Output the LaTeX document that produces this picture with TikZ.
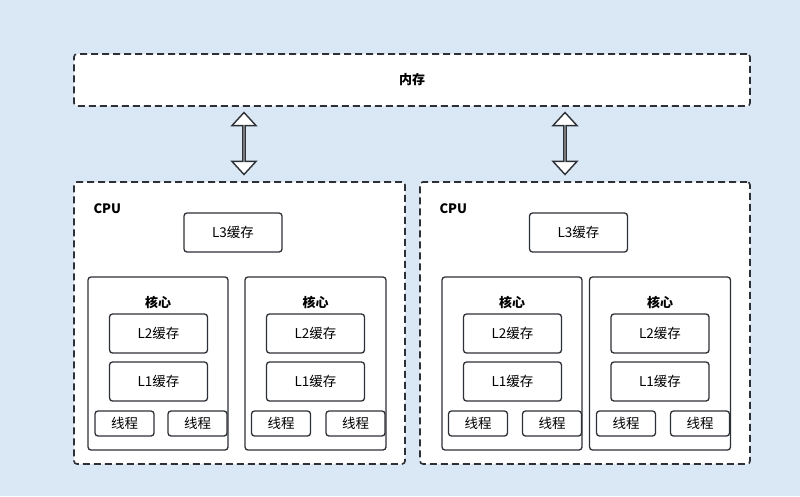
\documentclass[tikz,border=0pt]{standalone}
\usepackage{fontspec}
\setmainfont{Noto Sans CJK SC}
\usetikzlibrary{shapes.arrows}
\definecolor{bgblue}{RGB}{218,231,245}
\definecolor{linegray}{RGB}{45,48,54}

\begin{document}
\begin{tikzpicture}[x=1pt, y=-1pt,
		dashbox/.style={draw=linegray, line width=1.6pt, dash pattern=on 7pt off 4pt, rounded corners=3pt, fill=white},
		solidbox/.style={draw=linegray, line width=1.3pt, rounded corners=3pt, fill=white, inner sep=0pt, font=\fontsize{13.5}{15}\selectfont},
		boldlabel/.style={font=\fontsize{13}{15}\selectfont\bfseries},
		dblarrow/.style={double arrow, draw=linegray, fill=white, line width=1.4pt, minimum height=62pt, minimum width=24pt, double arrow head extend=6.5pt, double arrow tip angle=85, inner sep=0pt, rotate=90}]
				% Background and outer boxes:
				\fill[bgblue] (0, 0) rectangle (800, 496);
				\node[dashbox, minimum width=676pt, minimum height=52pt](M) at (412, 80){} node[boldlabel] at (M.center){内存};
				\node[dashbox, minimum width=331pt, minimum height=282pt](C1) at (239.5, 323){};
				\node[dashbox, minimum width=330pt, minimum height=282pt](C2) at (585, 323){};
				\node[boldlabel, anchor=west](T1) at (90, 209){CPU};
				\node[boldlabel, anchor=west](T2) at (436, 209){CPU};
				% Arrows between memory and CPUs:
				\node[dblarrow](A1) at (244, 143.5){};
				\node[dblarrow](A2) at (565, 143.5){};
				% L3 caches:
				\node[solidbox, minimum width=98pt, minimum height=39pt](L3a) at (233, 232.5){L3缓存};
				\node[solidbox, minimum width=98pt, minimum height=39pt](L3b) at (578.5, 232.5){L3缓存};
				% Cores:
				\node[solidbox, minimum width=140pt, minimum height=173pt](K1) at (158, 363.5){};
				\node[solidbox, minimum width=141pt, minimum height=173pt](K2) at (315.5, 363.5){};
				\node[solidbox, minimum width=140pt, minimum height=173pt](K3) at (512, 363.5){};
				\node[solidbox, minimum width=141pt, minimum height=173pt](K4) at (660, 363.5){};
				\node[boldlabel] at (158, 302){核心};
				\node[boldlabel] at (315.5, 302){核心};
				\node[boldlabel] at (512, 302){核心};
				\node[boldlabel] at (660, 302){核心};
				% L2 and L1 caches:
				\node[solidbox, minimum width=98pt, minimum height=39pt](L2a) at (158.5, 333.5){L2缓存};
				\node[solidbox, minimum width=98pt, minimum height=39pt](L2b) at (315.5, 333.5){L2缓存};
				\node[solidbox, minimum width=98pt, minimum height=39pt](L2c) at (512.5, 333.5){L2缓存};
				\node[solidbox, minimum width=98pt, minimum height=39pt](L2d) at (660, 333.5){L2缓存};
				\node[solidbox, minimum width=98pt, minimum height=39pt](L1a) at (158.5, 381.5){L1缓存};
				\node[solidbox, minimum width=98pt, minimum height=39pt](L1b) at (315.5, 381.5){L1缓存};
				\node[solidbox, minimum width=98pt, minimum height=39pt](L1c) at (512.5, 381.5){L1缓存};
				\node[solidbox, minimum width=98pt, minimum height=39pt](L1d) at (660, 381.5){L1缓存};
				% Threads:
				\node[solidbox, minimum width=59pt, minimum height=25pt](X1) at (124.5, 423.5){线程};
				\node[solidbox, minimum width=59pt, minimum height=25pt](X2) at (197.5, 423.5){线程};
				\node[solidbox, minimum width=59pt, minimum height=25pt](X3) at (281, 423.5){线程};
				\node[solidbox, minimum width=59pt, minimum height=25pt](X4) at (355.5, 423.5){线程};
				\node[solidbox, minimum width=59pt, minimum height=25pt](X5) at (478, 423.5){线程};
				\node[solidbox, minimum width=59pt, minimum height=25pt](X6) at (552, 423.5){线程};
				\node[solidbox, minimum width=59pt, minimum height=25pt](X7) at (626, 423.5){线程};
				\node[solidbox, minimum width=59pt, minimum height=25pt](X8) at (700, 423.5){线程};
\end{tikzpicture}
\end{document}
